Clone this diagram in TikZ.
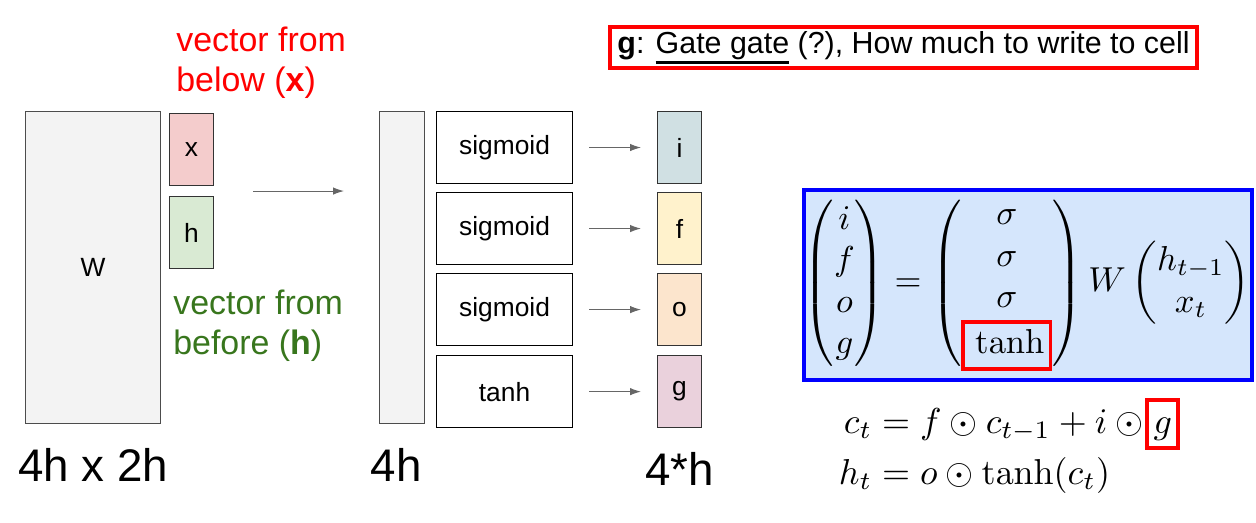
\documentclass[tikz,border=0pt]{standalone}
\usepackage{amsmath}
\usepackage[no-math]{fontspec}
\setmainfont{Liberation Sans}
\usetikzlibrary{arrows.meta,positioning}
\definecolor{xred}{RGB}{244,204,204}
\definecolor{hgreen}{RGB}{217,234,211}
\definecolor{wgray}{RGB}{243,243,243}
\definecolor{gatei}{RGB}{208,224,227}
\definecolor{gatef}{RGB}{255,242,204}
\definecolor{gateo}{RGB}{252,229,205}
\definecolor{gateg}{RGB}{234,209,220}
\definecolor{dgreen}{RGB}{56,118,29}
\definecolor{eqbg}{RGB}{213,230,252}
\definecolor{arrgray}{RGB}{102,102,102}
\newcommand{\thickul}[1]{\leavevmode\vtop{\hbox{#1}\kern0.8pt\hrule height 1.6pt}}
\newcommand{\redfbox}[1]{{\setlength{\fboxsep}{1.2pt}\setlength{\fboxrule}{1.1pt}\textcolor{red}{\fbox{\color{black}$\mathstrut#1$}}}}

\begin{document}
\begin{tikzpicture}[
    x=0.02cm, y=-0.02cm,
    node distance=0.16cm,
    mat/.style={draw=black!70, fill=wgray, line width=0.6pt, minimum width=2.7cm, minimum height=6.24cm, inner sep=0, font=\fontsize{15}{18}\selectfont},
    vec/.style={draw=black!80, line width=0.6pt, minimum width=0.88cm, minimum height=1.44cm, inner sep=0, font=\fontsize{15}{18}\selectfont},
    actbox/.style={draw, line width=0.6pt, minimum width=2.72cm, minimum height=1.44cm, inner sep=0, font=\fontsize{15}{18}\selectfont},
    dim/.style={inner sep=0, font=\fontsize{26}{30}\selectfont},
    note/.style={align=left, inner sep=0, anchor=north west, font=\fontsize{19.3}{22.7}\selectfont},
    garr/.style={-{Latex[length=2.2mm,width=1.5mm]}, draw=arrgray, line width=0.6pt}
  ]
    \useasboundingbox (0,0) rectangle (1256,523);

    % weights and inputs
    \node[mat, anchor=north west] (W) at (25,111) {W};
    \node[vec, fill=xred, anchor=north west] (x) at (169,113) {x};
    \node[vec, fill=hgreen, below=0.2cm of x] (h) {h};
    \node[note, text=red] (xnote) at (176,27) {vector from\\below (\textbf{x})};
    \node[note, text=dgreen] (hnote) at (173,290) {vector from\\before (\textbf{h})};

    % pre-activations and nonlinearities
    \node[mat, minimum width=0.9cm, anchor=north west] (col) at (379,111) {};
    \node[actbox, anchor=north west] (s1) at (436,111) {sigmoid};
    \node[actbox, below=of s1] (s2) {sigmoid};
    \node[actbox, below=of s2] (s3) {sigmoid};
    \node[actbox, below=0.18cm of s3] (s4) {tanh};

    % gates
    \node[vec, fill=gatei, anchor=north west] (gi) at (657,111) {i};
    \node[vec, fill=gatef, below=of gi] (gf) {f};
    \node[vec, fill=gateo, below=of gf] (go) {o};
    \node[vec, fill=gateg, below=0.18cm of go] (gg) {g};

    \path (x.south east) -- (h.north east) coordinate[midway] (xh);
    \draw[garr, shorten <=0.78cm, shorten >=0.7cm] (xh) -- (xh -| col.west);
    \draw[garr, shorten <=0.32cm, shorten >=0.32cm] (s1) -- (gi);
    \draw[garr, shorten <=0.32cm, shorten >=0.32cm] (s2) -- (gf);
    \draw[garr, shorten <=0.32cm, shorten >=0.32cm] (s3) -- (go);
    \draw[garr, shorten <=0.32cm, shorten >=0.32cm] (s4) -- (gg);

    % sizes
    \node[dim, below=0.48cm of W] (wdim) {4h x 2h};
    \node[dim, below=0.48cm of col, xshift=-0.12cm] (cdim) {4h};
    \node[dim, below=0.48cm of gg] (gdim) {4*h};

    % equations
    \node[draw=red, line width=2.3pt, minimum width=11.74cm, minimum height=0.82cm, inner sep=0, font=\fontsize{17.3}{20}\selectfont] (gnote) at (903.5,47.5) {\textbf{g}: \thickul{Gate gate} (?), How much to write to cell};
    \node[draw=blue, line width=2.3pt, fill=eqbg, minimum width=8.96cm, minimum height=3.8cm] (eqbox) at (1028,285) {};
    \node[scale=1.97] (gates) at (1027,283) {$\begin{pmatrix} i\\ f\\ o\\ g \end{pmatrix} = \begin{pmatrix} \sigma\\ \sigma\\ \sigma\\ \redfbox{\tanh} \end{pmatrix} W \begin{pmatrix} h_{t-1}\\ x_t \end{pmatrix}$};
    \node[scale=2.05, below=0.06cm of eqbox, xshift=-0.18cm] (cell) {\setlength{\jot}{0pt}$\begin{aligned} c_t &= f \odot c_{t-1} + i \odot\! \redfbox{g}\\ h_t &= o \odot \tanh(c_t) \end{aligned}$};
\end{tikzpicture}
\end{document}
